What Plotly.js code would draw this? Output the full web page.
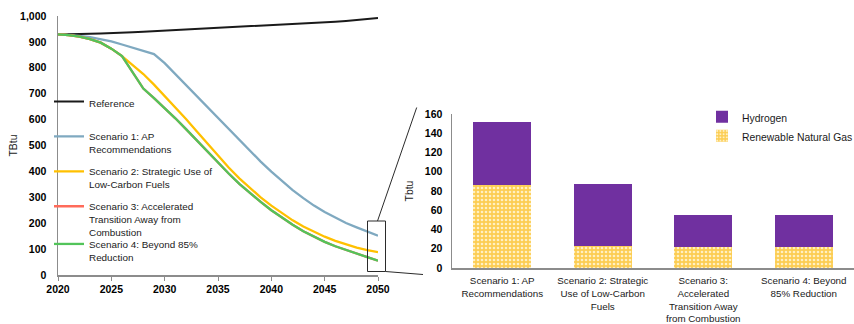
<!DOCTYPE html>
<html>
<head>
<meta charset="utf-8">
<script src="https://cdn.plot.ly/plotly-3.0.1.min.js"></script>
<style>
  html, body { margin: 0; padding: 0; background: #ffffff; }
  #chart { width: 854px; height: 324px; }
</style>
</head>
<body>
<div id="chart"></div>
<script>
// Consumption pathways, 2020-2050 (TBtu)
const years = [2020, 2021, 2022, 2023, 2024, 2025, 2026, 2027, 2028, 2029,
               2030, 2031, 2032, 2033, 2034, 2035, 2036, 2037, 2038, 2039,
               2040, 2041, 2042, 2043, 2044, 2045, 2046, 2047, 2048, 2049, 2050];

const reference = [929, 929, 930, 931, 932, 933, 935, 937, 939, 941,
                   944, 946, 948, 950, 952, 954, 956, 958, 960, 962,
                   964, 966, 968, 970, 972, 975, 978, 981, 984, 988, 992];

const scenario1 = [929, 927, 923, 918, 910, 902, 890, 878, 866, 853,
                   818, 776, 733, 690, 647, 605, 562, 520, 478, 438,
                   399, 362, 328, 297, 268, 243, 221, 201, 184, 167, 152];

const scenario2 = [929, 926, 920, 911, 897, 874, 845, 812, 776, 735,
                   692, 648, 602, 555, 507, 460, 415, 373, 335, 300,
                   268, 238, 211, 187, 166, 148, 132, 118, 106, 96, 88];

const scenario3 = [929, 926, 920, 911, 897, 874, 845, 782, 720, 683,
                   645, 605, 563, 520, 475, 433, 392, 352, 316, 282,
                   250, 221, 194, 169, 147, 128, 111, 96, 83, 69, 55];

const scenario4 = [929, 926, 920, 911, 897, 874, 845, 782, 720, 683,
                   645, 605, 563, 520, 475, 433, 392, 352, 316, 282,
                   250, 221, 194, 169, 147, 128, 111, 96, 83, 69, 55];

// Low-carbon fuel use in 2050 by scenario (Tbtu)
const scenarioLabels = [
  "Scenario 1: AP<br>Recommendations",
  "Scenario 2: Strategic<br>Use of Low-Carbon<br>Fuels",
  "Scenario 3:<br>Accelerated<br>Transition Away<br>from Combustion",
  "Scenario 4: Beyond<br>85% Reduction"
];
const renewableNaturalGas = [86, 23, 22, 22];
const hydrogen = [66, 64, 33, 33];

const lineTickVals = [2020, 2025, 2030, 2035, 2040, 2045, 2050];
const lineTickText = ["2020", "2025", "2030", "2035", "2040", "2045", "2050"];
const barTickVals = [0, 20, 40, 60, 80, 100, 120, 140, 160];

// ---- layout helpers (figure pixels -> paper fractions) ----
const W = 854, H = 324;
const px = x => x / W;
const py = y => (H - y) / H;

const FONT = "Liberation Sans, Arial, sans-serif";
const AXIS_GREY = "#8c8c8c";
const TXT = "#1a1a1a";

function legendAt(left, top, size) {
  return {
    x: px(left), y: py(top), xanchor: "left", yanchor: "top",
    bgcolor: "rgba(0,0,0,0)", borderwidth: 0, valign: "top",
    font: { family: FONT, size: size || 9.9, color: TXT },
    itemclick: false, itemdoubleclick: false
  };
}

function pathway(name, values, color, legendId, width) {
  return {
    type: "scatter", mode: "lines", x: years, y: values, name: name,
    line: { color: color, width: width || 2.3 },
    xaxis: "x", yaxis: "y", legend: legendId, hoverinfo: "skip"
  };
}

const traces = [
  pathway("Reference", reference, "#1a1a1a", "legend", 2),
  pathway("Scenario 1: AP<br>Recommendations", scenario1, "#7fa9c0", "legend2"),
  pathway("Scenario 2: Strategic Use of<br>Low-Carbon Fuels", scenario2, "#ffc000", "legend3"),
  pathway("Scenario 3: Accelerated<br>Transition Away from<br>Combustion", scenario3, "#ff6b5a", "legend4"),
  pathway("Scenario 4: Beyond 85%<br>Reduction", scenario4, "#52c45a", "legend5"),
  {
    type: "bar", x: scenarioLabels, y: renewableNaturalGas, name: "Renewable Natural Gas",
    xaxis: "x2", yaxis: "y2", legend: "legend6", width: 0.58, hoverinfo: "skip",
    marker: {
      color: "#fccd52",
      line: { width: 0 },
      pattern: { shape: ".", fillmode: "replace", bgcolor: "#fccd52", fgcolor: "#fff0c2", size: 4, solidity: 0.35 }
    }
  },
  {
    type: "bar", x: scenarioLabels, y: hydrogen, name: "Hydrogen",
    xaxis: "x2", yaxis: "y2", legend: "legend6", width: 0.58, hoverinfo: "skip",
    marker: { color: "#7030a0", line: { width: 0 } }
  }
];

const tickFont = { family: FONT, size: 10.5, color: "#000000", weight: "bold" };
const titleFont = { family: FONT, size: 10.4, color: TXT };

const layout = {
  width: W, height: H,
  margin: { l: 0, r: 0, t: 0, b: 0, pad: 0, autoexpand: false },
  paper_bgcolor: "#ffffff", plot_bgcolor: "rgba(0,0,0,0)",
  font: { family: FONT, size: 10, color: TXT },
  showlegend: true,
  barmode: "stack",
  xaxis: {
    domain: [px(58), px(378)], anchor: "y", range: [2020, 2050],
    tickmode: "array", tickvals: lineTickVals, ticktext: lineTickText,
    showline: true, linecolor: AXIS_GREY, linewidth: 1.5,
    ticks: "outside", ticklen: 4, tickcolor: AXIS_GREY, tickwidth: 1,
    showgrid: false, zeroline: false, tickfont: tickFont, fixedrange: true
  },
  yaxis: {
    domain: [py(275), py(16)], anchor: "x", range: [0, 1000],
    dtick: 100, tick0: 0, tickformat: ",d",
    showline: true, linecolor: AXIS_GREY, linewidth: 1.5,
    ticks: "", showgrid: false, zeroline: false, tickfont: tickFont,
    ticklabelstandoff: 8,
    title: { text: "TBtu", font: titleFont, standoff: 0 },
    fixedrange: true
  },
  xaxis2: {
    domain: [px(452), 1], anchor: "y2", type: "category", range: [-0.5, 3.5],
    showline: true, linecolor: AXIS_GREY, linewidth: 1.5,
    ticks: "", showgrid: false, zeroline: false,
    ticklabelstandoff: 3,
    tickfont: { family: FONT, size: 9.8, color: TXT }, fixedrange: true
  },
  yaxis2: {
    domain: [py(268), py(114)], anchor: "x2", range: [0, 160],
    tickmode: "array", tickvals: barTickVals,
    showline: true, linecolor: AXIS_GREY, linewidth: 1.5,
    ticks: "", showgrid: false, zeroline: false, tickfont: tickFont,
    ticklabelstandoff: 6,
    title: { text: "Tbtu", font: titleFont, standoff: 9 },
    fixedrange: true
  },
  legend: legendAt(49, 88.5),
  legend2: legendAt(49, 123.5),
  legend3: legendAt(49, 158.5),
  legend4: legendAt(49, 193.3),
  legend5: legendAt(49, 231),
  legend6: Object.assign(legendAt(702, 103.5, 10.4), { traceorder: "reversed" }),
  // zoom box around the 2050 values and the callout lines to the bar panel
  shapes: [
    { type: "rect", xref: "paper", yref: "paper",
      x0: px(367.5), x1: px(385.5), y0: py(271.5), y1: py(221),
      line: { color: "#2b2b2b", width: 1 }, fillcolor: "rgba(0,0,0,0)", layer: "above" },
    { type: "line", xref: "paper", yref: "paper",
      x0: px(377.5), y0: py(221), x1: px(416.7), y1: py(107.5),
      line: { color: "#2b2b2b", width: 1 }, layer: "above" },
    { type: "line", xref: "paper", yref: "paper",
      x0: px(385.5), y0: py(271.5), x1: px(423), y1: py(274.5),
      line: { color: "#2b2b2b", width: 1 }, layer: "above" }
  ]
};

Plotly.newPlot("chart", traces, layout, { staticPlot: true, displayModeBar: false });
</script>
</body>
</html>
